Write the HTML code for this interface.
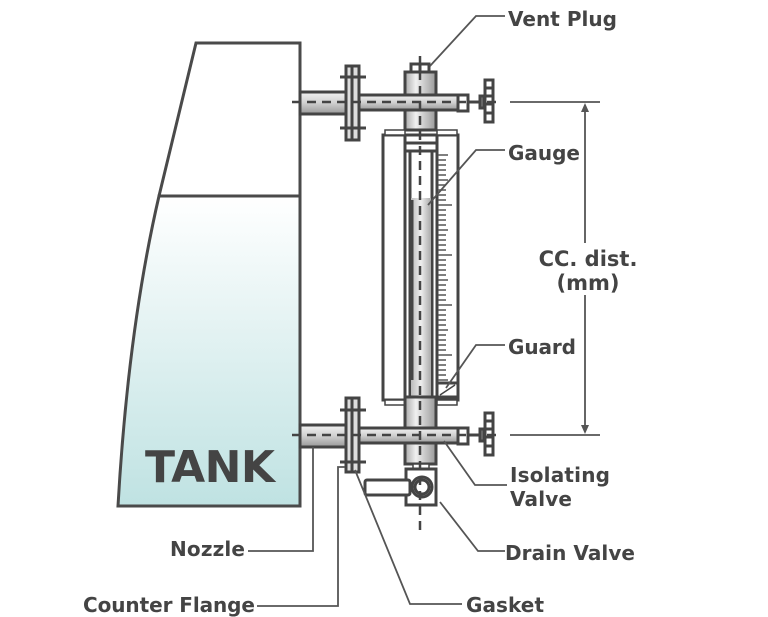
<!DOCTYPE html>
<html><head><style>
html,body{margin:0;padding:0;background:#fff;}
svg{display:block;}
text{font-family:"DejaVu Sans","Liberation Sans",sans-serif;font-weight:bold;fill:#444;}
</style></head><body>
<svg width="768" height="617" viewBox="0 0 768 617" xmlns="http://www.w3.org/2000/svg">
<defs>
<linearGradient id="liq" x1="0" y1="0" x2="0" y2="1">
<stop offset="0" stop-color="#ffffff"/><stop offset="1" stop-color="#bfe2e2"/>
</linearGradient>
<linearGradient id="pipeH" x1="0" y1="0" x2="0" y2="1">
<stop offset="0" stop-color="#f2f2f2"/><stop offset="0.5" stop-color="#d0d0d0"/><stop offset="1" stop-color="#999"/>
</linearGradient>
<linearGradient id="pipeV" x1="0" y1="0" x2="1" y2="0">
<stop offset="0" stop-color="#aaa"/><stop offset="0.35" stop-color="#f0f0f0"/><stop offset="1" stop-color="#999"/>
</linearGradient>
<linearGradient id="glass" x1="0" y1="0" x2="1" y2="0">
<stop offset="0" stop-color="#bbb"/><stop offset="0.5" stop-color="#eee"/><stop offset="1" stop-color="#aaa"/>
</linearGradient>
</defs>
<g stroke="#4a4a4a" stroke-width="3" fill="none">
<path d="M159,196 L300,196 L300,506 L118,506 Q128,330 159,196 Z" fill="url(#liq)"/>
<path d="M159,196 L196,43 L300,43 L300,196"/>
</g>
<text x="145" y="482" font-size="44" fill="#444" textLength="130">TANK</text>

<g stroke="#444" stroke-width="3">
<rect x="405" y="72" width="31" height="58" fill="url(#pipeV)"/>
<rect x="411" y="64" width="18" height="8" fill="#fff"/>
<line x1="420" y1="64" x2="420" y2="72"/>
<rect x="300" y="92" width="46" height="22" fill="url(#pipeH)"/>
<rect x="359" y="95" width="100" height="15" fill="url(#pipeH)"/>
<rect x="346" y="66" width="13" height="74" fill="#ddd"/>
<line x1="352" y1="66" x2="352" y2="140"/>
<line x1="340" y1="77" x2="366" y2="77"/><line x1="340" y1="128" x2="366" y2="128"/>
<rect x="458" y="95" width="10" height="16" fill="#fff"/>
<line x1="468" y1="102" x2="480" y2="102"/>
<rect x="480" y="96" width="4" height="12" fill="#888"/>
<rect x="485" y="80" width="8" height="42" fill="#fff"/>
<line x1="485" y1="88" x2="493" y2="88"/><line x1="485" y1="96" x2="493" y2="96"/><line x1="485" y1="104" x2="493" y2="104"/><line x1="485" y1="113" x2="493" y2="113"/>
<rect x="383" y="135" width="75" height="265" fill="#fff"/>
<rect x="405" y="135" width="32" height="16" fill="#fff"/>
<line x1="405" y1="143" x2="437" y2="143"/>
<line x1="405" y1="151" x2="405" y2="397"/>
<line x1="437" y1="151" x2="437" y2="397"/>
<rect x="410" y="151" width="22" height="246" fill="#fff"/>
<rect x="411" y="198" width="20" height="199" fill="url(#glass)" stroke="none"/>
<line x1="412" y1="200" x2="412" y2="380" stroke-width="3"/>
<rect x="437" y="383" width="21" height="14" fill="#fff"/>
<line x1="440" y1="395" x2="455" y2="385" stroke-width="1.5"/>
<rect x="385" y="130" width="20" height="5" fill="#fff" stroke-width="1.5"/>
<rect x="437" y="130" width="20" height="5" fill="#fff" stroke-width="1.5"/>
<rect x="385" y="400" width="20" height="5" fill="#fff" stroke-width="1.5"/>
<rect x="437" y="400" width="20" height="5" fill="#fff" stroke-width="1.5"/>
<rect x="405" y="397" width="31" height="67" fill="url(#pipeV)"/>
<rect x="300" y="425" width="46" height="22" fill="url(#pipeH)"/>
<rect x="359" y="428" width="100" height="15" fill="url(#pipeH)"/>
<rect x="346" y="398" width="13" height="74" fill="#ddd"/>
<line x1="352" y1="398" x2="352" y2="472"/>
<line x1="340" y1="410" x2="366" y2="410"/><line x1="340" y1="462" x2="366" y2="462"/>
<rect x="458" y="428" width="10" height="16" fill="#fff"/>
<line x1="468" y1="435" x2="480" y2="435"/>
<rect x="480" y="429" width="4" height="12" fill="#888"/>
<rect x="485" y="413" width="8" height="42" fill="#fff"/>
<line x1="485" y1="421" x2="493" y2="421"/><line x1="485" y1="429" x2="493" y2="429"/><line x1="485" y1="437" x2="493" y2="437"/><line x1="485" y1="446" x2="493" y2="446"/>
<rect x="413" y="464" width="16" height="5" fill="#fff" stroke-width="1.5"/>
<rect x="406" y="469" width="30" height="36" fill="#fff"/>
<rect x="365" y="480" width="45" height="15" fill="#fff" rx="2"/>
<circle cx="422" cy="487" r="10" fill="#fff"/>
<circle cx="422" cy="487" r="7" fill="#fff"/>
</g>
<g stroke="#555" stroke-width="1.5">
<path d="M438,155h10M438,160h8M438,165h8M438,170h8M438,175h8M438,180h10M438,185h8M438,190h8M438,195h8M438,200h8M438,205h14M438,210h8M438,215h8M438,220h8M438,225h8M438,230h10M438,235h8M438,240h8M438,245h8M438,250h8M438,255h14M438,260h8M438,265h8M438,270h8M438,275h8M438,280h10M438,285h8M438,290h8M438,295h8M438,300h8M438,305h14M438,310h8M438,315h8M438,320h8M438,325h8M438,330h10M438,335h8M438,340h8M438,345h8M438,350h8M438,355h14M438,360h8M438,365h8M438,370h8M438,375h8M438,380h10"/>
</g>
<g stroke="#444" stroke-width="2.5" stroke-dasharray="9,6" fill="none">
<line x1="420" y1="56" x2="420" y2="530"/>
<line x1="292" y1="102" x2="500" y2="102"/>
<line x1="292" y1="435" x2="500" y2="435"/>
</g>
<g stroke="#555" stroke-width="1.8" fill="none">
<line x1="510" y1="102" x2="600" y2="102"/>
<line x1="510" y1="435" x2="600" y2="435"/>
<line x1="585" y1="105" x2="585" y2="432"/>
</g>
<path d="M585,103 l-4,9 h8z M585,434 l-4,-9 h8z" fill="#555"/>
<rect x="535" y="243" width="105" height="52" fill="#fff"/>
<text x="588" y="266" font-size="21" text-anchor="middle">CC. dist.</text>
<text x="588" y="290" font-size="21" text-anchor="middle">(mm)</text>
<g stroke="#555" stroke-width="1.8" fill="none">
<path d="M505,16 H476 L430,66"/>
<path d="M505,150 H476 L428,205"/>
<path d="M505,345 H476 L446,388"/>
<path d="M507,485 H475 L444,441"/>
<path d="M505,551 H478 L440,502"/>
<path d="M462,604 H410 L355,470"/>
<path d="M248,551 H313 V447"/>
<path d="M257,606 H338 V467 H345"/>
</g>
<g font-size="20">
<text x="508" y="26" textLength="109">Vent Plug</text>
<text x="508" y="160" textLength="72">Gauge</text>
<text x="508" y="354" textLength="68">Guard</text>
<text x="510" y="482" textLength="100">Isolating</text>
<text x="510" y="506" textLength="62">Valve</text>
<text x="505" y="560" textLength="130">Drain Valve</text>
<text x="466" y="612" textLength="78">Gasket</text>
<text x="170" y="556" textLength="75">Nozzle</text>
<text x="83" y="612" textLength="172">Counter Flange</text>
</g>
</svg>
</body></html>
